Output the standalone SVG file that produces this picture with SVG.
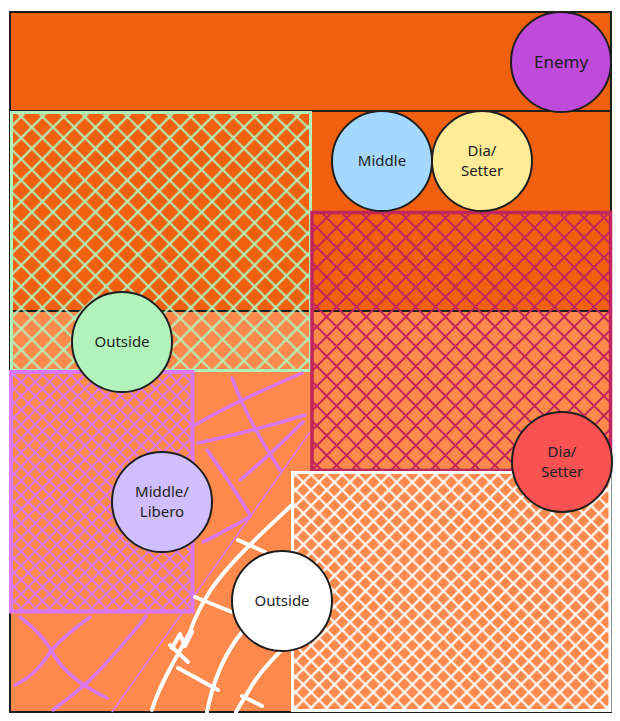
<svg xmlns="http://www.w3.org/2000/svg" width="620" height="721" viewBox="0 0 620 721">
<style>
.court{stroke:#1e1e1e;stroke-width:2}
.dark{fill:#f0600f}
.light{fill:#fd8a4c}
.node circle{stroke:#1e1e1e;stroke-width:2}
.node text{font-family:"Noto Sans","Liberation Sans",sans-serif;font-size:15px;fill:#1e1e1e;text-anchor:middle}
.scrP{fill:none;stroke:#da77f2;stroke-width:3.5;stroke-linecap:round;stroke-linejoin:round}
.scrW{fill:none;stroke:#ffffff;stroke-width:4;stroke-linecap:round;stroke-linejoin:round}
</style>
<defs>
<pattern id="hGreen" width="15" height="15" patternUnits="userSpaceOnUse" patternTransform="rotate(45)">
<path d="M0 7.5H15M7.5 0V15" stroke="#b2f2bb" stroke-width="2.2"/>
</pattern>
<pattern id="hCrimson" width="14" height="14" patternUnits="userSpaceOnUse" patternTransform="rotate(45)">
<path d="M0 7H14M7 0V14" stroke="#c2255c" stroke-width="2"/>
</pattern>
<pattern id="hPurple" width="10" height="10" patternUnits="userSpaceOnUse" patternTransform="rotate(45)">
<path d="M0 5H10M5 0V10" stroke="#da77f2" stroke-width="2"/>
</pattern>
<pattern id="hWhite" width="11" height="11" patternUnits="userSpaceOnUse" patternTransform="rotate(45)">
<path d="M0 5.5H11M5.5 0V11" stroke="#ffffff" stroke-width="2.2"/>
</pattern>
</defs>

<g id="court">
<rect class="court dark" x="10" y="12" width="601" height="99"/>
<rect class="court dark" x="10" y="111" width="601" height="200"/>
<rect class="court light" x="10" y="311" width="601" height="401"/>
</g>

<g id="zones">
<rect id="zone-green" x="11.5" y="112.5" width="299" height="258" fill="url(#hGreen)" stroke="#b2f2bb" stroke-width="3"/>
<rect id="zone-crimson" x="312" y="212.5" width="298.5" height="258" fill="url(#hCrimson)" stroke="#c2255c" stroke-width="3.5"/>
<rect id="zone-purple" x="11" y="372" width="181.5" height="239.5" fill="url(#hPurple)" stroke="#da77f2" stroke-width="4"/>
</g>

<g id="scribble-purple">
<path d="M310 432L112 712" fill="none" stroke="#da77f2" stroke-width="1.6"/>
<path class="scrP" d="M232 378C240 400 255 432 280 470"/>
<path class="scrP" d="M207 450C220 468 235 490 250 515"/>
<path class="scrP" d="M195 425C225 407 265 389 302 373"/>
<path class="scrP" d="M198 443C230 436 270 426 305 415"/>
<path class="scrP" d="M303 422C285 440 262 462 240 480"/>
<path class="scrP" d="M250 517C235 525 218 535 203 542"/>
<path class="scrP" d="M20 617C35 628 46 640 54 655C64 672 82 686 107 698"/>
<path class="scrP" d="M90 617C75 628 60 640 51 651C43 663 34 676 15 685"/>
<path class="scrP" d="M145 618C130 636 110 660 93 677C80 690 66 700 53 710"/>
<path class="scrP" d="M140 624L146 616"/>
</g>

<g id="scribble-white">
<path class="scrW" d="M292 505C262 533 232 560 212 588C200 606 194 620 190 632C180 652 160 682 152 710"/>
<path class="scrW" d="M172 648L180 634L185 646L192 632"/>
<path class="scrW" d="M290 585C270 600 250 620 236 640C222 660 212 686 207 712"/>
<path class="scrW" d="M292 640C276 655 261 670 251 687C245 697 240 705 236 712"/>
<path class="scrW" d="M238 540L265 552"/>
<path class="scrW" d="M195 597L232 612"/>
<path class="scrW" d="M170 645L188 662"/>
<path class="scrW" d="M178 668L218 690"/>
<path class="scrW" d="M242 696L262 706"/>
</g>

<g id="zone-white-g">
<rect id="zone-white" x="292.5" y="472.5" width="317.5" height="238" fill="url(#hWhite)" stroke="#ffffff" stroke-width="3"/>
</g>

<g id="enemy" class="node">
<circle cx="561" cy="62" r="50" fill="#be4bdb"/>
<text x="561" y="68" style="font-size:17px">Enemy</text>
</g>
<g id="middle-front" class="node">
<circle cx="382" cy="161" r="50" fill="#a5d8ff"/>
<text x="382" y="166">Middle</text>
</g>
<g id="setter-front" class="node">
<circle cx="482" cy="161" r="50" fill="#ffec99"/>
<text x="482" y="156">Dia/</text>
<text x="482" y="176">Setter</text>
</g>
<g id="outside-front" class="node">
<circle cx="122" cy="342" r="50" fill="#b2f2bb"/>
<text x="122" y="347">Outside</text>
</g>
<g id="middle-libero" class="node">
<circle cx="162" cy="502" r="50" fill="#d0bfff"/>
<text x="162" y="497">Middle/</text>
<text x="162" y="517">Libero</text>
</g>
<g id="setter-back" class="node">
<circle cx="562" cy="462" r="50" fill="#fa5252"/>
<text x="562" y="457">Dia/</text>
<text x="562" y="477">Setter</text>
</g>
<g id="outside-back" class="node">
<circle cx="282" cy="601" r="50" fill="#ffffff"/>
<text x="282" y="606">Outside</text>
</g>
<g id="connectors"/>
</svg>
